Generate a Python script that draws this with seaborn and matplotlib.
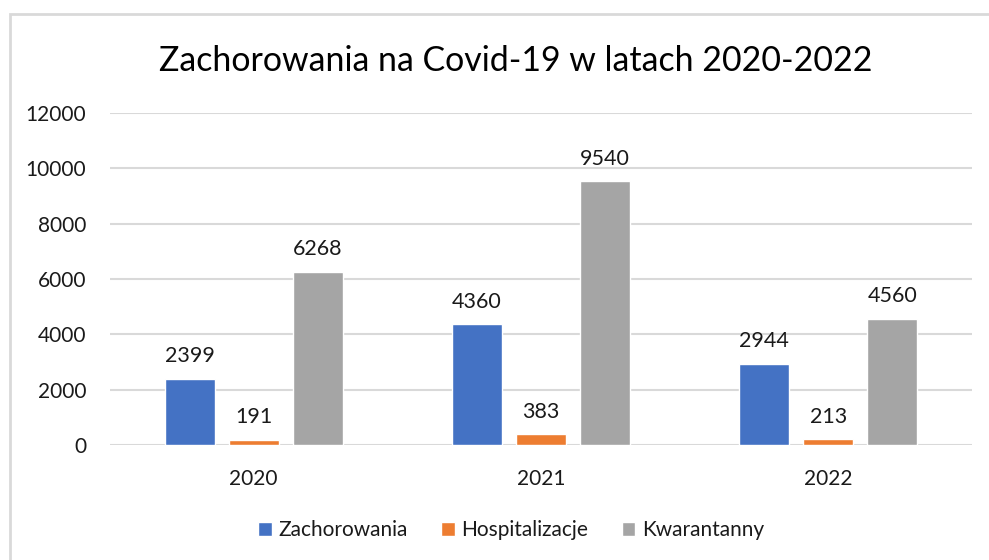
import matplotlib
matplotlib.use("Agg")
import matplotlib.pyplot as plt
import seaborn as sns
import pandas as pd
from matplotlib.patches import Rectangle

years = ["2020", "2021", "2022"]
series = ["Zachorowania", "Hospitalizacje", "Kwarantanny"]
zachorowania = [2399, 4360, 2944]
hospitalizacje = [191, 383, 213]
kwarantanny = [6268, 9540, 4560]
yticks = [0, 2000, 4000, 6000, 8000, 10000, 12000]
title = "Zachorowania na Covid-19 w latach 2020-2022"
colors = ["#4472C4", "#ED7D31", "#A5A5A5"]

df = pd.DataFrame({
    "rok": years * 3,
    "seria": [s for s in series for _ in years],
    "wartosc": zachorowania + hospitalizacje + kwarantanny,
})

sns.set_theme(style="white")
plt.rcParams["font.family"] = ["Lato", "DejaVu Sans"]

fig = plt.figure(figsize=(9.89, 5.6), dpi=100)
ax = fig.add_axes([110/989, 115/560, (972-110)/989, (445-113)/560])

sns.barplot(data=df, x="rok", y="wartosc", hue="seria", order=years,
            hue_order=series, palette=colors, width=0.669, gap=0.22,
            saturation=1, ax=ax, legend=True)

ax.set_ylim(0, 12000)
ax.set_yticks(yticks)
ax.set_yticklabels([str(t) for t in yticks])
ax.set_xlim(-0.5, 2.5)
ax.set_xlabel("")
ax.set_ylabel("")
ax.grid(axis="y", color="#D9D9D9", linewidth=1.5)
ax.set_axisbelow(True)
for s in ax.spines.values():
    s.set_visible(False)
ax.tick_params(axis="both", length=0, labelsize=15, colors="#1a1a1a")
ax.tick_params(axis="y", pad=17)
ax.tick_params(axis="x", pad=17)

for cont in ax.containers:
    ax.bar_label(cont, padding=9, fontsize=15.5, color="#1a1a1a")

handles, labels = ax.get_legend_handles_labels()
ax.legend_.remove()
fig.legend(handles, labels, loc="center", bbox_to_anchor=(511/989, 1-530/560),
           ncol=3, frameon=False, fontsize=15, handlelength=0.67,
           handleheight=0.67, handletextpad=0.3, columnspacing=1.6,
           labelcolor="#1a1a1a")

fig.text(516/989, 1-61/560, title, ha="center", va="center", fontsize=24.4,
         color="#000000")

fig.patches.append(Rectangle((10/989, -0.1), 1.2, 1-14/560+0.1,
                             transform=fig.transFigure, fill=False,
                             edgecolor="#D9D9D9", linewidth=2, clip_on=False))

fig.savefig("out.png", dpi=100)
